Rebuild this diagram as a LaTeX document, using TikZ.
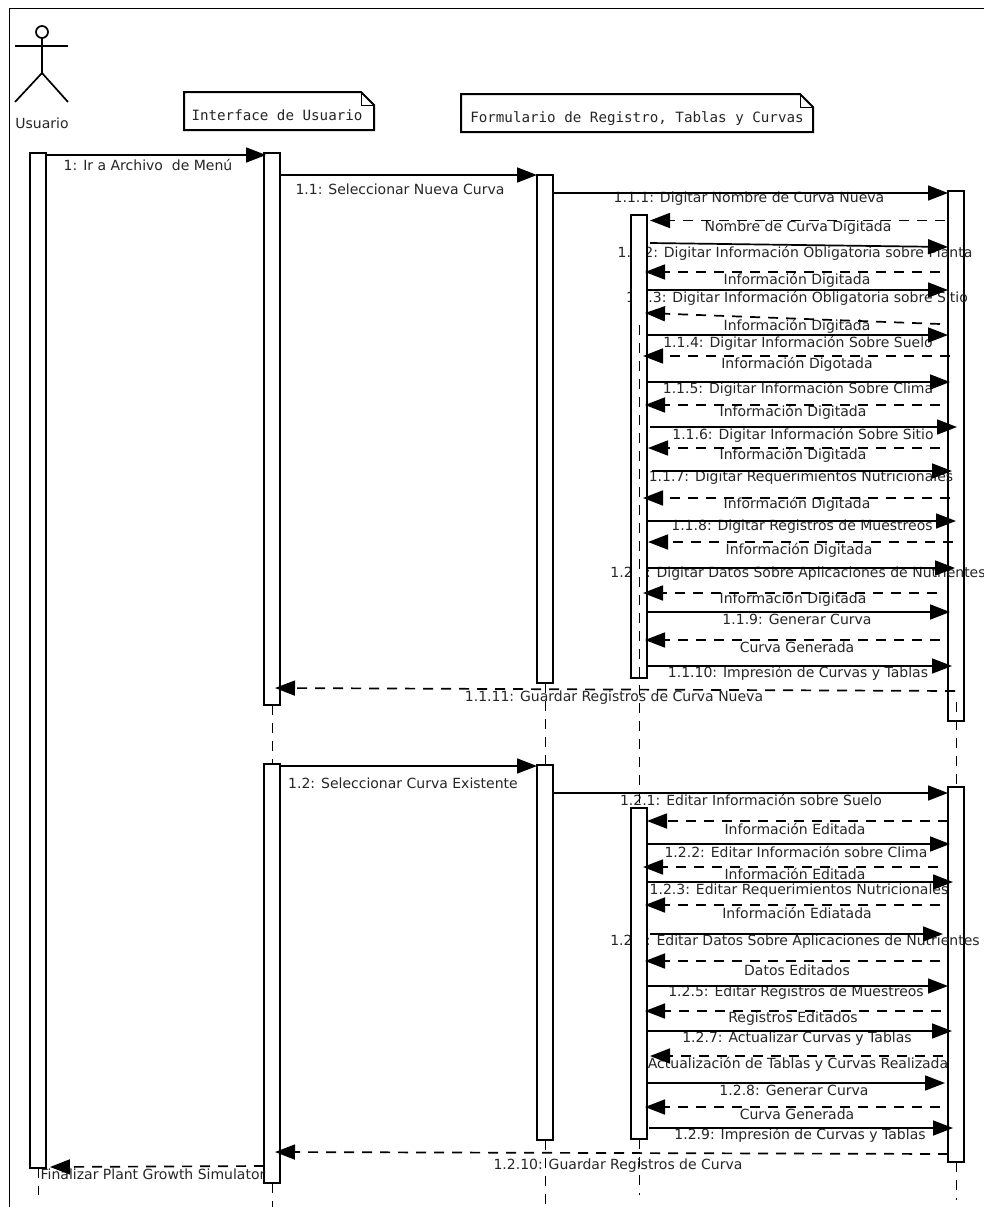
\documentclass[tikz,border=0pt]{standalone}
\usepackage{fontspec}
\setmainfont{DejaVu Sans}
\newfontfamily\notefont{DejaVu Sans Mono}
\usetikzlibrary{arrows.meta}
\tikzset{
  bar/.style={draw=black,fill=white,line width=2pt,minimum width=16pt,outer sep=0pt,inner sep=0pt},
  lbl/.style={text=black!85,font=\fontsize{14}{16}\selectfont,inner sep=0pt,anchor=center,yshift=-1pt},
  notetxt/.style={text=black!85,font=\notefont\fontsize{14.2}{16}\selectfont,inner sep=0pt,anchor=center},
  notebox/.style={draw=black,line width=2pt,line join=miter},
  foldline/.style={draw=black,line width=0.9pt},
  actorline/.style={draw=black,line width=1.7pt},
  smsg/.style={draw=black,line width=1.7pt,-{Triangle[length=20pt,width=15pt]}},
  dmsg/.style={draw=black,line width=1.7pt,dash pattern=on 10pt off 8pt,-{Triangle[length=20pt,width=15pt]}},
  life/.style={draw=black,line width=0.9pt,dash pattern=on 10pt off 8pt},
  frameline/.style={draw=black,line width=0.9pt}
}
\newcommand\fwd[6]{\draw[smsg] ([xshift=#2pt]#1.east |- 0,#3) -- ([xshift=#5pt]#4.west |- 0,#6);}
\newcommand\ret[6]{\draw[dmsg] ([xshift=#5pt]#4.west |- 0,#6) -- ([xshift=#2pt]#1.east |- 0,#3);}
\begin{document}
\begin{tikzpicture}[x=1pt,y=-1pt]
\useasboundingbox (0,0) rectangle (984,1207);
\fill[white] (0,0) rectangle (984,1207);
\coordinate (frameA) at (984,8);
\coordinate (frameB) at (9,8);
\coordinate (frameC) at (9,1207);
\draw[frameline] (frameA) -- (frameB) -- (frameC);
% actor
\node[draw=black,line width=1.7pt,circle,minimum size=12pt,inner sep=0pt,outer sep=0pt] (head) at (42,32) {};
\coordinate (armL) at (15,46); \coordinate (armR) at (68,46);
\coordinate (hip) at (42,73); \coordinate (legL) at (15,102); \coordinate (legR) at (68,102);
\draw[actorline] (armL) -- (armR);
\draw[actorline] (head.south) -- (hip);
\draw[actorline] (legL) -- (hip) -- (legR);
\node[lbl] (actorname) at (42,122) {Usuario};
% notes
\draw[notebox] (184,92) -- (361,92) -- (374,105) -- (374,130) -- (184,130) -- cycle;
\draw[foldline] (361,92) -- (361,105) -- (374,105);
\node[notetxt] (noteui) at (277,115) {Interface de Usuario};
\draw[notebox] (461,94) -- (800,94) -- (813,107) -- (813,132) -- (461,132) -- cycle;
\draw[foldline] (800,94) -- (800,107) -- (813,107);
\node[notetxt] (noteform) at (637,119) {Formulario de Registro, Tablas y Curvas};
% bars below the text
\node[bar,minimum height=1015pt] (usr) at (38,660.5) {};
\node[bar,minimum height=552pt] (ui1) at (272,429) {};
\node[bar,minimum height=419pt] (ui2) at (272,973.5) {};
\node[bar,minimum height=508pt] (fa1) at (545,429) {};
\node[bar,minimum height=375pt] (fa2) at (545,952.5) {};
\node[bar,minimum height=530pt] (rb1) at (956,456) {};
\node[bar,minimum height=375pt] (rb2) at (956,974.5) {};
% labels
\node[lbl] (t1) at (148,164) {1: Ir a Archivo\ \ de Menú};
\node[lbl] (t11) at (400,188) {1.1: Seleccionar Nueva Curva};
\node[lbl] (t111) at (749,198) {1.1.1: Digitar Nombre de Curva Nueva};
\node[lbl] (r111) at (798,227) {Nombre de Curva Digitada};
\node[lbl] (t112) at (795,252) {1.1.2: Digitar Información Obligatoria sobre Planta};
\node[lbl] (r112) at (797,279) {Información Digitada};
\node[lbl] (t113) at (797,297) {1.1.3: Digitar Información Obligatoria sobre Sitio};
\node[lbl] (r113) at (797,325) {Información Digitada};
\node[lbl] (t114) at (798,342) {1.1.4: Digitar Información Sobre Suelo};
\node[lbl] (r114) at (797,363) {Información Digotada};
\node[lbl] (t115) at (798,388) {1.1.5: Digitar Información Sobre Clima};
\node[lbl] (r115) at (793,411) {Información Digitada};
\node[lbl] (t116) at (803,434) {1.1.6: Digitar Información Sobre Sitio};
\node[lbl] (r116) at (793,454) {Información Digitada};
\node[lbl] (t117) at (801,477) {1.1.7: Digitar Requerimientos Nutricionales};
\node[lbl] (r117) at (797,503) {Información Digitada};
\node[lbl] (t118) at (802,526) {1.1.8: Digitar Registros de Muestreos};
\node[lbl] (r118) at (799,549) {Información Digitada};
\node[lbl] (t121x) at (798,573) {1.2.1: Digitar Datos Sobre Aplicaciones de Nutrientes};
\node[lbl] (r121x) at (793,598) {Información Digitada};
\node[lbl] (t119) at (797,618) {1.1.9: Generar Curva};
\node[lbl] (r119) at (797,646) {Curva Generada};
\node[lbl] (t1110) at (798,672) {1.1.10: Impresión de Curvas y Tablas};
\node[lbl] (t1111) at (614,697) {1.1.11: Guardar Registros de Curva Nueva};
\node[lbl] (t12) at (403,782) {1.2: Seleccionar Curva Existente};
\node[lbl] (t121) at (751,799) {1.2.1: Editar Información sobre Suelo};
\node[lbl] (r121) at (795,828) {Información Editada};
\node[lbl] (t122) at (796,851) {1.2.2: Editar Información sobre Clima};
\node[lbl] (r122) at (795,873) {Información Editada};
\node[lbl] (t123) at (799,890) {1.2.3: Editar Requerimientos Nutricionales};
\node[lbl] (r123) at (797,912) {Información Ediatada};
\node[lbl] (t124) at (795,941) {1.2.4: Editar Datos Sobre Aplicaciones de Nutrientes};
\node[lbl] (r124) at (797,969) {Datos Editados};
\node[lbl] (t125) at (796,992) {1.2.5: Editar Registros de Muestreos};
\node[lbl] (r125) at (793,1018) {Registros Editados};
\node[lbl] (t127) at (797,1038) {1.2.7: Actualizar Curvas y Tablas};
\node[lbl] (r127) at (798,1063) {Actualización de Tablas y Curvas Realizada};
\node[lbl] (t128) at (794,1089) {1.2.8: Generar Curva};
\node[lbl] (r128) at (797,1113) {Curva Generada};
\node[lbl] (t129) at (800,1134) {1.2.9: Impresión de Curvas y Tablas};
\node[lbl] (t1210) at (618,1165) {1.2.10: Guardar Registros de Curva};
\node[lbl] (tfin) at (153,1173) {Finalizar Plant Growth Simulator};
% inner bars cover the labels
\node[bar,minimum height=463pt] (in1) at (639,446.5) {};
\node[bar,minimum height=331pt] (in2) at (639,973.5) {};
% lifelines
\coordinate (usrEnd) at (38,1195);
\coordinate (uiEnd) at (272,1207);
\coordinate (faEnd) at (545,1205);
\coordinate (inEnd) at (639,1195);
\coordinate (rbEnd) at (956,1200);
\coordinate (inStart) at (639,325);
\coordinate (rbStart) at (956,702);
\draw[life] (usr.south) -- (usrEnd);
\draw[life] (ui1.south) -- (ui2.north);
\draw[life] (ui2.south) -- (uiEnd);
\draw[life] (fa1.south) -- (fa2.north);
\draw[life] (fa2.south) -- (faEnd);
\draw[life] (inStart) -- (in2.north);
\draw[life] (in2.south) -- (inEnd);
\draw[life] (rbStart) -- (rb2.north);
\draw[life] (rb2.south) -- (rbEnd);
% first sequence
\fwd{usr}{0}{155}{ui1}{2}{155}
\fwd{ui1}{0}{175}{fa1}{0}{175}
\fwd{fa1}{0}{193}{rb1}{0}{193}
\ret{in1}{3}{220.5}{rb1}{-3}{220.5}
\fwd{in1}{3}{243}{rb1}{0}{247}
\ret{in1}{-2}{272}{rb1}{-8}{272}
\fwd{in1}{0}{290}{rb1}{0}{290}
\ret{in1}{-2}{313}{rb1}{-8}{324}
\fwd{in1}{0}{335}{rb1}{0}{335}
\ret{in1}{-4}{356}{rb1}{2}{356}
\fwd{in1}{0}{382}{rb1}{2}{382}
\ret{in1}{-2}{405}{rb1}{-8}{405}
\fwd{in1}{3}{427}{rb1}{9}{427}
\ret{in1}{1}{448}{rb1}{-8}{448}
\fwd{in1}{5}{471}{rb1}{4}{471}
\ret{in1}{-4}{498}{rb1}{2}{498}
\fwd{in1}{0}{521}{rb1}{8}{521}
\ret{in1}{1}{542}{rb1}{5}{542}
\fwd{in1}{0}{568}{rb1}{7}{568}
\ret{in1}{-4}{593}{rb1}{-11}{593}
\fwd{in1}{0}{612}{rb1}{2}{612}
\ret{in1}{-2}{640}{rb1}{-8}{640}
\fwd{in1}{0}{666}{rb1}{4}{666}
\ret{ui1}{-5}{688}{rb1}{7}{691}
% second sequence
\fwd{ui2}{0}{766}{fa2}{0}{766}
\fwd{fa2}{0}{793}{rb2}{0}{793}
\ret{in2}{0}{821}{rb2}{0}{821}
\fwd{in2}{0}{844}{rb2}{2}{844}
\ret{in2}{-4}{867}{rb2}{-10}{867}
\fwd{in2}{0}{882}{rb2}{5}{882}
\ret{in2}{-2}{905}{rb2}{-8}{905}
\fwd{in2}{3}{934}{rb2}{-5}{934}
\ret{in2}{-2}{961}{rb2}{-8}{961}
\fwd{in2}{0}{986}{rb2}{0}{986}
\ret{in2}{-2}{1011}{rb2}{-7}{1011}
\fwd{in2}{0}{1031}{rb2}{4}{1031}
\ret{in2}{3}{1056}{rb2}{-5}{1056}
\fwd{in2}{0}{1083}{rb2}{-3}{1083}
\ret{in2}{-2}{1107}{rb2}{-8}{1107}
\fwd{in2}{2}{1128}{rb2}{5}{1128}
\ret{ui2}{-5}{1152}{rb2}{0}{1154}
\draw[dmsg] (ui2.west |- 0,1166) -- ([xshift=4pt]usr.east |- 0,1167);
\end{tikzpicture}
\end{document}
